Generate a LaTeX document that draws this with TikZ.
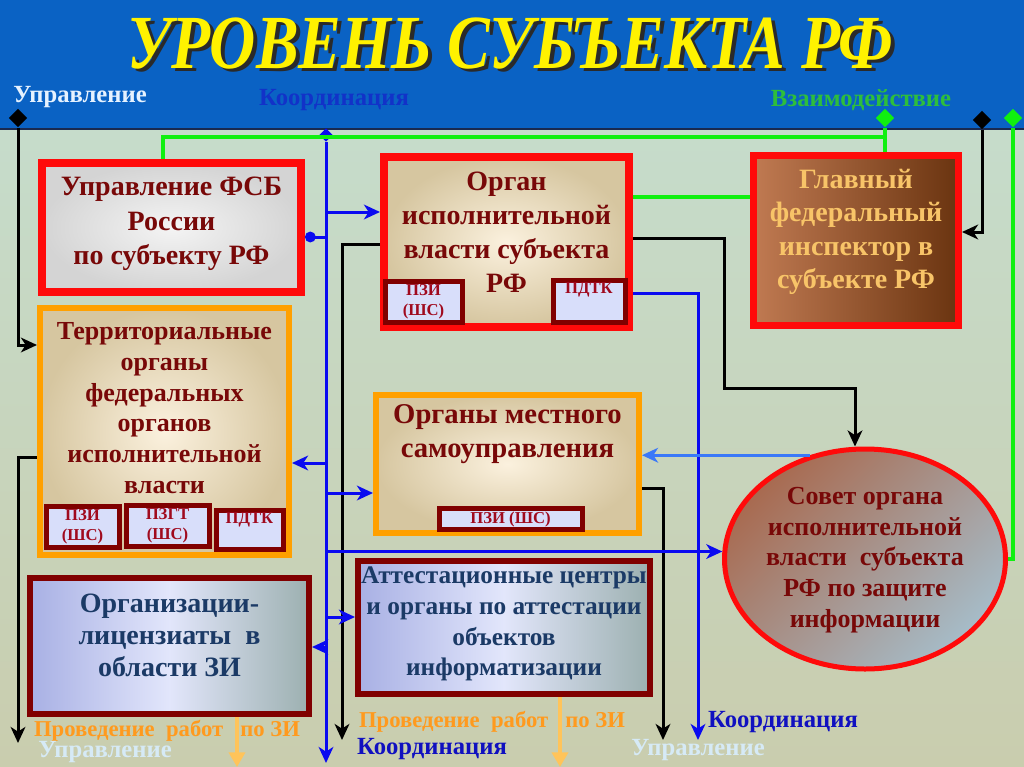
\documentclass[tikz,border=0pt]{standalone}
\usepackage{fontspec}
\usepackage{graphicx}
\setmainfont{Liberation Serif}
\usetikzlibrary{arrows.meta,shapes.geometric}
\definecolor{bandblue}{HTML}{0A62C4}
\definecolor{bandline}{HTML}{1A2A50}
\definecolor{bgtop}{HTML}{C6DCCB}
\definecolor{bgbot}{HTML}{C9CDAE}
\definecolor{boxred}{HTML}{FF0A0A}
\definecolor{orng}{HTML}{FFA000}
\definecolor{dred}{HTML}{800000}
\definecolor{txtred}{HTML}{780808}
\definecolor{txtnavy}{HTML}{1B3A66}
\definecolor{gfitxt}{HTML}{F8C468}
\definecolor{subfill}{HTML}{D8DEFA}
\definecolor{subtxt}{HTML}{A00A1E}
\definecolor{blu}{HTML}{0A0AF0}
\definecolor{lblu}{HTML}{3A78F8}
\definecolor{grn}{HTML}{10F010}
\definecolor{lblgreen}{HTML}{2EBE3C}
\definecolor{lbldblue}{HTML}{1232C8}
\definecolor{kblue}{HTML}{1010C0}
\definecolor{ortext}{HTML}{FF9A1E}
\definecolor{orarrow}{HTML}{FFC45A}
\definecolor{lightlbl}{HTML}{D6EAF6}
\definecolor{toplbl}{HTML}{E6F2FF}
\definecolor{beigein}{HTML}{FBF1DE}
\definecolor{beigeout}{HTML}{D6C6A0}
\definecolor{marblein}{HTML}{F4F4F4}
\definecolor{marbleout}{HTML}{D4D4D4}
\definecolor{brownL}{HTML}{C07A52}
\definecolor{brownR}{HTML}{6A3410}
\definecolor{ellA}{HTML}{A86A50}
\definecolor{ellB}{HTML}{A6BCC8}
\definecolor{lavL}{HTML}{A8B0E4}
\definecolor{lavM}{HTML}{E2E6FB}
\definecolor{lavR}{HTML}{9CB0B0}
\definecolor{ttlshadow}{HTML}{2A2A2A}
\newcommand\myfs[2]{\fontsize{#1}{#2}\selectfont\bfseries}
\newcommand\ttltext{\resizebox{574pt}{38pt}{\bfseries\itshape УРОВЕНЬ СУБЪЕКТА РФ}}
\begin{document}
\begin{tikzpicture}[x=0.75pt,y=-0.75pt,
  box/.style={rectangle,inner sep=0pt},
  txt/.style={align=center,inner sep=0pt},
  redbox/.style={box,draw=boxred,line width=6pt},
  orbox/.style={box,draw=orng,line width=4.5pt,inner color=beigein,outer color=beigeout},
  dbox/.style={box,draw=dred,line width=4.5pt,left color=lavL,right color=lavR,middle color=lavM},
  subbox/.style={box,draw=dred,line width=3.75pt,fill=subfill},
  subtx/.style={txt,text=subtxt,font=\myfs{12.5}{15}},
  bline/.style={draw=blu,line width=2.25pt},
  kline/.style={draw=black,line width=2.25pt},
  gline/.style={draw=grn,line width=3pt},
  arr/.style={-{Stealth[length=12pt,width=11pt,inset=3.5pt]}},
  dotend/.style={-{Circle[length=8pt]}},
  oarr/.style={draw=orarrow,line width=3.5pt,-{Triangle[length=11pt,width=12pt]}},
  dmd/.style={diamond,inner sep=0pt,minimum size=14pt},
  lbl/.style={txt,font=\myfs{18.5}{22}},
  blbl/.style={txt,font=\myfs{17}{20}}
]
\useasboundingbox (0,0) rectangle (1024,767);
% background
\fill[top color=bgtop,bottom color=bgbot] (0,129) rectangle (1024,767);
\fill[bandblue] (0,0) rectangle (1024,129);
\draw[line width=1.2pt,draw=bandline] (0,129) -- (1024,129);

% title
\node[txt,text=ttlshadow] (ttlsh) at (514,47) {\ttltext};
\node[txt,text=yellow] (ttl) at (510,44) {\ttltext};

% top labels
\node[lbl,text=toplbl] (lupr) at (80,97) {Управление};
\node[lbl,text=lbldblue] (lkoord) at (334,100) {Координация};
\node[lbl,text=lblgreen] (lvz) at (861,100) {Взаимодействие};

% boxes
\node[redbox,inner color=marblein,outer color=marbleout,minimum width=259*0.75pt,minimum height=129*0.75pt] (fsb) at (171.5,227.5) {};
\node[txt,text=txtred,font=\myfs{21}{26}] (fsbt) at (171.5,224) {Управление ФСБ\\России\\по субъекту РФ};

\node[redbox,inner color=beigein,outer color=beigeout,minimum width=245*0.75pt,minimum height=170*0.75pt] (organ) at (506.5,242) {};
\node[txt,text=txtred,font=\myfs{21}{25.5}] (organt) at (506.5,232) {Орган\\исполнительной\\власти субъекта\\РФ};
\node[subbox,minimum width=77*0.75pt,minimum height=41*0.75pt] (opzi) at (423.5,301.5) {};
\node[subtx] (opzit) at (423.5,302) {ПЗИ\\(ШС)};
\node[subbox,minimum width=72*0.75pt,minimum height=42*0.75pt] (opdtk) at (589,301) {};
\node[subtx] (opdtkt) at (589,290) {ПДТК};

\node[box,draw=boxred,line width=5.25pt,left color=brownL,right color=brownR,minimum width=205*0.75pt,minimum height=170*0.75pt] (gfi) at (856,240.5) {};
\node[txt,text=gfitxt,font=\myfs{21}{25}] (gfit) at (856,232) {Главный\\федеральный\\инспектор в\\субъекте РФ};

\node[orbox,minimum width=249*0.75pt,minimum height=247*0.75pt] (terr) at (164.5,431.5) {};
\node[txt,text=txtred,font=\myfs{19.5}{23}] (terrt) at (164.5,408) {Территориальные\\органы\\федеральных\\органов\\исполнительной\\власти};
\node[subbox,minimum width=73*0.75pt,minimum height=41*0.75pt] (tpzi) at (82.5,526.5) {};
\node[subtx] (tpzit) at (82.5,527) {ПЗИ\\(ШС)};
\node[subbox,minimum width=83*0.75pt,minimum height=41*0.75pt] (tpzgt) at (167.5,525.5) {};
\node[subtx] (tpzgtt) at (167.5,526) {ПЗГТ\\(ШС)};
\node[subbox,minimum width=67*0.75pt,minimum height=39*0.75pt] (tpdtk) at (249.5,529.5) {};
\node[subtx] (tpdtkt) at (249.5,520) {ПДТК};

\node[orbox,minimum width=263*0.75pt,minimum height=138*0.75pt] (local) at (507.5,464) {};
\node[txt,text=txtred,font=\myfs{21.5}{26}] (localt) at (507.5,434) {Органы местного\\самоуправления};
\node[subbox,minimum width=143*0.75pt,minimum height=21*0.75pt] (lpzi) at (510.5,518.5) {};
\node[subtx] (lpzit) at (510.5,519) {ПЗИ (ШС)};

\node[ellipse,draw=boxred,line width=3.75pt,inner sep=0pt,top color=ellA,bottom color=ellB,shading angle=45,minimum width=281*0.75pt,minimum height=220*0.75pt] (ell) at (865,559) {};
\node[txt,text=txtred,font=\myfs{19.5}{23}] (ellt) at (865,560) {Совет органа\\исполнительной\\власти\ \ субъекта\\РФ по защите\\информации};

\node[dbox,minimum width=279*0.75pt,minimum height=136*0.75pt] (org) at (169.5,646) {};
\node[txt,text=txtnavy,font=\myfs{21}{24}] (orgt) at (169.5,635) {Организации-\\лицензиаты\ \ в\\области ЗИ};

\node[dbox,minimum width=292*0.75pt,minimum height=133*0.75pt] (att) at (504,627.5) {};
\node[txt,text=txtnavy,font=\myfs{19}{23}] (attt) at (504,624) {Аттестационные центры\\и органы по аттестации\\объектов\\информатизации};

% markers
\node[dmd,fill=black] (dL) at (18,118) {};
\node[dmd,fill=black] (dR) at (982,120) {};
\node[dmd,fill=grn] (dG1) at (885,118) {};
\node[dmd,fill=grn] (dG2) at (1013,118) {};
\node[dmd,fill=blu,minimum size=10pt] (dB) at (326,135) {};

% end points
\coordinate (eL) at (18,743);
\coordinate (eK4) at (342,740);
\coordinate (eB) at (326,763);
\coordinate (eB8) at (698,740);
\coordinate (eK6) at (663,740);

% green connectors
\draw[gline] (fsb.north -| 163,0) |- (885,137);
\draw[gline] (dG1) -- (gfi.north -| dG1);
\draw[gline] (organ.east |- 0,197) -- (gfi.west |- 0,197);
\draw[gline] (dG2) |- (ell.east);

% black connectors
\draw[kline,arr] (dL) |- (terr.west |- 0,345);
\draw[kline,arr] (dR) |- (gfi.east |- 0,232);
\draw[kline,arr] (terr.west |- 0,457) -| (eL);
\draw[kline,arr] (organ.west |- 0,244) -| (eK4);
\draw[kline,arr] (organ.east |- 0,238) -| (724,388) -| (ell.north -| 855,0);
\draw[kline,arr] (local.east |- 0,488) -| (eK6);

% blue connectors
\draw[bline,arr] (dB) -- (eB);
\draw[bline,arr] (dB |- 0,212) -- (organ.west |- 0,212);
\draw[bline,dotend] (dB |- 0,237) -- (fsb.east |- 0,237);
\draw[bline,arr] (dB |- 0,463) -- (terr.east |- 0,463);
\draw[bline,arr] (dB |- 0,493) -- (local.west |- 0,493);
\draw[bline,arr] (dB |- ell.177) -- (ell.177);
\draw[bline,arr] (dB |- 0,617) -- (att.west |- 0,617);
\draw[bline,arr] (dB |- 0,647) -- (org.east |- 0,647);
\draw[bline,arr] (organ.east |- 0,293) -| (eB8);
\draw[draw=lblu,line width=2pt,arr] (ell.118) -- (local.east |- ell.118);

% bottom labels
\node[blbl,text=ortext] (bp1) at (167,731) {Проведение\ \ работ\ \ \ по ЗИ};
\node[lbl,text=lightlbl] (bu1) at (105,752) {Управление};
\node[blbl,text=ortext] (bp2) at (492,722) {Проведение\ \ работ\ \ \ по ЗИ};
\node[lbl,text=kblue] (bk2) at (432,749) {Координация};
\node[lbl,text=kblue] (bk3) at (783,722) {Координация};
\node[lbl,text=lightlbl] (bu3) at (698,750) {Управление};

% orange arrows
\coordinate (eO1) at (237,767);
\coordinate (eO2) at (560,767);
\draw[oarr] (org.south -| eO1) -- (eO1);
\draw[oarr] (att.south -| eO2) -- (eO2);
\end{tikzpicture}
\end{document}
